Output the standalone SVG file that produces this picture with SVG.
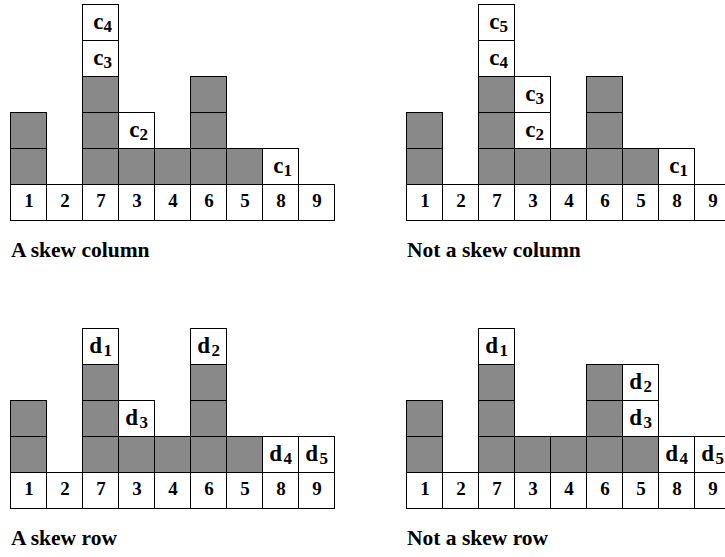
<svg xmlns="http://www.w3.org/2000/svg" xmlns:xlink="http://www.w3.org/1999/xlink" width="725" height="557" viewBox="0 0 725 557">
<style>
.gc{fill:#898989;stroke:#000;stroke-width:1}
.wc{fill:#fff;stroke:#000;stroke-width:1}
.num{font-family:"Liberation Serif","Times New Roman",serif;font-weight:bold;font-size:19px;text-anchor:middle;fill:#000}
.lab{font-family:"Liberation Serif","Times New Roman",serif;font-weight:bold;font-size:23px;text-anchor:end;fill:#000}
.sub{font-size:17px}
.cap{font-family:"Liberation Serif","Times New Roman",serif;font-weight:bold;font-size:21.5px;fill:#000}
</style>
<defs>
<rect id="g" class="gc" width="36" height="36"/>
<rect id="w" class="wc" width="36" height="36"/>
<g id="base">
<use xlink:href="#w" x="0" y="0"/><use xlink:href="#w" x="36" y="0"/><use xlink:href="#w" x="72" y="0"/>
<use xlink:href="#w" x="108" y="0"/><use xlink:href="#w" x="144" y="0"/><use xlink:href="#w" x="180" y="0"/>
<use xlink:href="#w" x="216" y="0"/><use xlink:href="#w" x="252" y="0"/><use xlink:href="#w" x="288" y="0"/>
<text class="num" x="18.5" y="22.5">1</text><text class="num" x="54.5" y="22.5">2</text><text class="num" x="90.5" y="22.5">7</text>
<text class="num" x="126.5" y="22.5">3</text><text class="num" x="162.5" y="22.5">4</text><text class="num" x="198.5" y="22.5">6</text>
<text class="num" x="234.5" y="22.5">5</text><text class="num" x="270.5" y="22.5">8</text><text class="num" x="306.5" y="22.5">9</text>
</g>
<g id="grays">
<use xlink:href="#g" x="0" y="-36"/><use xlink:href="#g" x="0" y="-72"/>
<use xlink:href="#g" x="72" y="-36"/><use xlink:href="#g" x="72" y="-72"/><use xlink:href="#g" x="72" y="-108"/>
<use xlink:href="#g" x="108" y="-36"/><use xlink:href="#g" x="144" y="-36"/>
<use xlink:href="#g" x="180" y="-36"/><use xlink:href="#g" x="180" y="-72"/><use xlink:href="#g" x="180" y="-108"/>
<use xlink:href="#g" x="216" y="-36"/>
</g>
</defs>

<g id="panel-a" transform="translate(10.5,184.5)">
<use xlink:href="#grays"/>
<use xlink:href="#base"/>
<g id="a-c1"><use xlink:href="#w" x="252" y="-36"/><text class="lab" x="281.5" y="-11.5">c<tspan class="sub" dy="3">1</tspan></text></g>
<g id="a-c2"><use xlink:href="#w" x="108" y="-72"/><text class="lab" x="137.5" y="-47.5">c<tspan class="sub" dy="3">2</tspan></text></g>
<g id="a-c3"><use xlink:href="#w" x="72" y="-144"/><text class="lab" x="101.5" y="-119.5">c<tspan class="sub" dy="3">3</tspan></text></g>
<g id="a-c4"><use xlink:href="#w" x="72" y="-180"/><text class="lab" x="101.5" y="-155.5">c<tspan class="sub" dy="3">4</tspan></text></g>
</g>
<text id="cap-a" class="cap" x="11" y="256.5">A skew column</text>

<g id="panel-b" transform="translate(406.5,184.5)">
<use xlink:href="#grays"/>
<use xlink:href="#base"/>
<g id="b-c1"><use xlink:href="#w" x="252" y="-36"/><text class="lab" x="281.5" y="-11.5">c<tspan class="sub" dy="3">1</tspan></text></g>
<g id="b-c2"><use xlink:href="#w" x="108" y="-72"/><text class="lab" x="137.5" y="-47.5">c<tspan class="sub" dy="3">2</tspan></text></g>
<g id="b-c3"><use xlink:href="#w" x="108" y="-108"/><text class="lab" x="137.5" y="-83.5">c<tspan class="sub" dy="3">3</tspan></text></g>
<g id="b-c4"><use xlink:href="#w" x="72" y="-144"/><text class="lab" x="101.5" y="-119.5">c<tspan class="sub" dy="3">4</tspan></text></g>
<g id="b-c5"><use xlink:href="#w" x="72" y="-180"/><text class="lab" x="101.5" y="-155.5">c<tspan class="sub" dy="3">5</tspan></text></g>
</g>
<text id="cap-b" class="cap" x="407" y="256.5">Not a skew column</text>

<g id="panel-c" transform="translate(10.5,472.5)">
<use xlink:href="#grays"/>
<use xlink:href="#base"/>
<g id="c-d1"><use xlink:href="#w" x="72" y="-144"/><text class="lab" x="101.5" y="-119.5">d<tspan class="sub" dx="1.5" dy="3">1</tspan></text></g>
<g id="c-d2"><use xlink:href="#w" x="180" y="-144"/><text class="lab" x="209.5" y="-119.5">d<tspan class="sub" dx="1.5" dy="3">2</tspan></text></g>
<g id="c-d3"><use xlink:href="#w" x="108" y="-72"/><text class="lab" x="137.5" y="-47.5">d<tspan class="sub" dx="1.5" dy="3">3</tspan></text></g>
<g id="c-d4"><use xlink:href="#w" x="252" y="-36"/><text class="lab" x="281.5" y="-11.5">d<tspan class="sub" dx="1.5" dy="3">4</tspan></text></g>
<g id="c-d5"><use xlink:href="#w" x="288" y="-36"/><text class="lab" x="317.5" y="-11.5">d<tspan class="sub" dx="1.5" dy="3">5</tspan></text></g>
</g>
<text id="cap-c" class="cap" x="11" y="544.5">A skew row</text>

<g id="panel-d" transform="translate(406.5,472.5)">
<use xlink:href="#grays"/>
<use xlink:href="#base"/>
<g id="d-d1"><use xlink:href="#w" x="72" y="-144"/><text class="lab" x="101.5" y="-119.5">d<tspan class="sub" dx="1.5" dy="3">1</tspan></text></g>
<g id="d-d2"><use xlink:href="#w" x="216" y="-108"/><text class="lab" x="245.5" y="-83.5">d<tspan class="sub" dx="1.5" dy="3">2</tspan></text></g>
<g id="d-d3"><use xlink:href="#w" x="216" y="-72"/><text class="lab" x="245.5" y="-47.5">d<tspan class="sub" dx="1.5" dy="3">3</tspan></text></g>
<g id="d-d4"><use xlink:href="#w" x="252" y="-36"/><text class="lab" x="281.5" y="-11.5">d<tspan class="sub" dx="1.5" dy="3">4</tspan></text></g>
<g id="d-d5"><use xlink:href="#w" x="288" y="-36"/><text class="lab" x="317.5" y="-11.5">d<tspan class="sub" dx="1.5" dy="3">5</tspan></text></g>
</g>
<text id="cap-d" class="cap" x="407" y="544.5">Not a skew row</text>
</svg>
